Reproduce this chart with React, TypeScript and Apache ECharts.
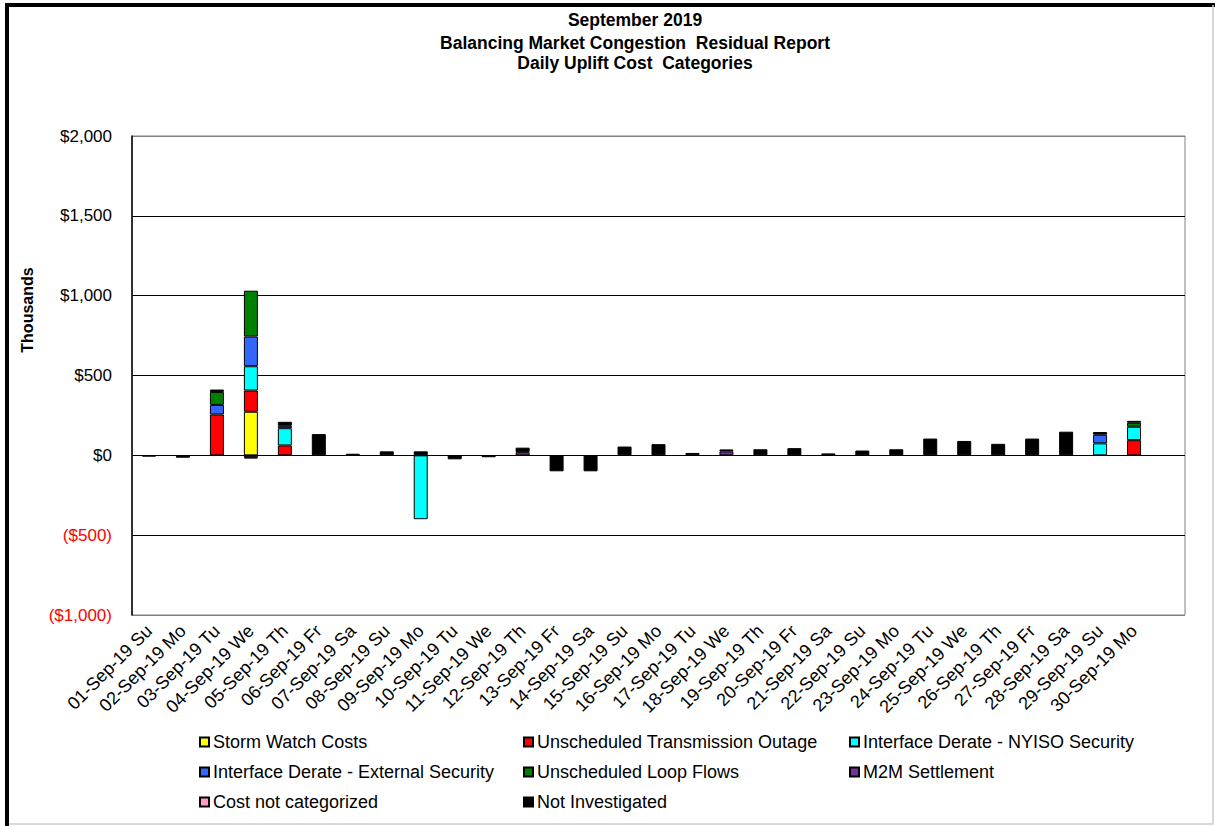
import React, { useEffect, useRef } from "react";
import * as echarts from "echarts";

const categories: string[] = [
  "01-Sep-19 Su", "02-Sep-19 Mo", "03-Sep-19 Tu", "04-Sep-19 We", "05-Sep-19 Th",
  "06-Sep-19 Fr", "07-Sep-19 Sa", "08-Sep-19 Su", "09-Sep-19 Mo", "10-Sep-19 Tu",
  "11-Sep-19 We", "12-Sep-19 Th", "13-Sep-19 Fr", "14-Sep-19 Sa", "15-Sep-19 Su",
  "16-Sep-19 Mo", "17-Sep-19 Tu", "18-Sep-19 We", "19-Sep-19 Th", "20-Sep-19 Fr",
  "21-Sep-19 Sa", "22-Sep-19 Su", "23-Sep-19 Mo", "24-Sep-19 Tu", "25-Sep-19 We",
  "26-Sep-19 Th", "27-Sep-19 Fr", "28-Sep-19 Sa", "29-Sep-19 Su", "30-Sep-19 Mo",
  "",
];

type V = number | null;
const stormWatch: V[] = [null, null, null, 273, null, null, null, null, null, null, null, null, null, null, null, null, null, null, null, null, null, null, null, null, null, null, null, null, null, null, null];
const transOutage: V[] = [null, null, 256, 133, 62, null, null, null, null, null, null, null, null, null, null, null, null, null, null, null, null, null, null, null, null, null, null, null, null, 95, null];
const nyisoSecurity: V[] = [null, null, null, 152, 108, null, null, null, -400, null, null, null, null, null, null, null, null, null, null, null, null, null, null, null, null, null, null, null, 75, 84, null];
const externalSecurity: V[] = [null, null, 60, 186, 15, null, null, null, null, null, null, null, null, null, null, null, null, null, null, null, null, null, null, null, null, null, null, null, 54, null, null];
const loopFlows: V[] = [null, null, 81, 287, null, null, null, null, null, null, null, null, null, null, null, null, null, null, null, null, null, null, null, null, null, null, null, null, null, 25, null];
const m2mSettlement: V[] = [null, null, null, -12, null, null, null, null, null, null, null, 20, null, null, null, null, null, 25, null, null, null, null, null, null, null, null, null, null, null, null, null];
const notCategorized: V[] = [null, null, null, null, null, null, null, null, null, null, null, null, null, null, null, null, null, null, null, null, null, null, null, null, null, null, null, null, null, null, null];
const notInvestigated: V[] = [-8, -15, 15, -8, 25, 133, 10, 25, 25, -25, -12, 28, -100, -100, 55, 70, 15, 12, 38, 45, 12, 30, 38, 105, 90, 72, 105, 148, 17, 12, null];

const yTicks = { min: -1000, max: 2000, interval: 500 };
const titleLines = [
  "September 2019",
  "Balancing Market Congestion  Residual Report",
  "Daily Uplift Cost  Categories",
];

const seriesDefs = [
  { name: "Storm Watch Costs", data: stormWatch, color: "#FFFF00" },
  { name: "Unscheduled Transmission Outage", data: transOutage, color: "#FF0000" },
  { name: "Interface Derate - NYISO Security", data: nyisoSecurity, color: "#00FFFF" },
  { name: "Interface Derate - External Security", data: externalSecurity, color: "#3366FF" },
  { name: "Unscheduled Loop Flows", data: loopFlows, color: "#008000" },
  { name: "M2M Settlement", data: m2mSettlement, color: "#7030A0" },
  { name: "Cost not categorized", data: notCategorized, color: "#FF99CC" },
  { name: "Not Investigated", data: notInvestigated, color: "#000000" },
];

const FONT = "'Liberation Sans', Arial, sans-serif";

function fmt(v: number): string {
  const s = "$" + Math.abs(v).toLocaleString("en-US");
  return v < 0 ? "(" + s + ")" : s;
}

export default function App() {
  const ref = useRef<HTMLDivElement>(null);
  useEffect(() => {
    if (!ref.current) return;
    const chart = echarts.init(ref.current, null, { renderer: "svg" });
    const legendCols = [
      [seriesDefs[0].name, seriesDefs[3].name, seriesDefs[6].name],
      [seriesDefs[1].name, seriesDefs[4].name, seriesDefs[7].name],
      [seriesDefs[2].name, seriesDefs[5].name],
    ];
    const legendX = [194, 518, 844];
    chart.setOption({
      animation: false,
      backgroundColor: "#ffffff",
      textStyle: { fontFamily: FONT },
      grid: { left: 132, top: 136, width: 1053, height: 479, show: true, borderColor: "#808080", borderWidth: 1, backgroundColor: "transparent" },
      legend: legendCols.map((names, i) => ({
        orient: "vertical",
        left: legendX[i],
        top: 728,
        icon: "rect",
        itemWidth: 9,
        itemHeight: 9,
        itemGap: 12,
        selectedMode: false,
        data: names,
        textStyle: { fontSize: 18, color: "#000", fontFamily: FONT, lineHeight: 18, padding: [0, 0, 0, -1] },
      })),
      xAxis: {
        type: "category",
        data: categories,
        position: "bottom",
        axisLine: { show: false, onZero: false },
        axisTick: { show: false },
        axisLabel: { interval: 0, rotate: 45, fontSize: 18, color: "#000", margin: 13, fontFamily: FONT },
        splitLine: { show: false },
      },
      yAxis: {
        type: "value",
        min: yTicks.min,
        max: yTicks.max,
        interval: yTicks.interval,
        axisLine: { show: true, lineStyle: { color: "#000", width: 1.5 } },
        axisTick: { show: false },
        axisLabel: {
          fontSize: 17,
          margin: 20,
          fontFamily: FONT,
          formatter: (v: number) => fmt(v),
          color: (v: any) => (Number(v) < 0 ? "#FF0000" : "#000000"),
        },
        splitLine: {
          show: true,
          lineStyle: { color: ["#808080", "#000", "#000", "#000", "#000", "#000", "#808080"], width: 1 },
        },
      },
      series: seriesDefs.map((s) => ({
        name: s.name,
        type: "bar",
        stack: "total",
        barWidth: 14,
        data: s.data.map((v) => (v === null ? "-" : v)),
        itemStyle: { color: s.color, borderColor: "#000", borderWidth: 1 },
        emphasis: { disabled: true },
      })),
      graphic: [
        { type: "polyline", shape: { points: [[7, 826], [7, 5], [1215, 5]] }, style: { stroke: "#000", lineWidth: 4, fill: null }, silent: true },
        { type: "polyline", shape: { points: [[1213, 5], [1213, 824], [9, 824]] }, style: { stroke: "#cccccc", lineWidth: 1.5, fill: null }, silent: true },
        ...titleLines.map((t, i) => ({
          type: "text",
          x: 635,
          y: [20, 43, 63][i],
          style: { text: t, fill: "#000", font: `bold 17.5px ${FONT}`, textAlign: "center", textVerticalAlign: "middle" },
          silent: true,
        })),
        {
          type: "text",
          x: 27,
          y: 310,
          rotation: Math.PI / 2,
          style: { text: "Thousands", fill: "#000", font: `bold 16px ${FONT}`, textAlign: "center", textVerticalAlign: "middle" },
          silent: true,
        },
      ],
    });
    return () => chart.dispose();
  }, []);
  return <div ref={ref} style={{ position: "fixed", left: 0, top: 0, width: 1215, height: 826 }} />;
}
